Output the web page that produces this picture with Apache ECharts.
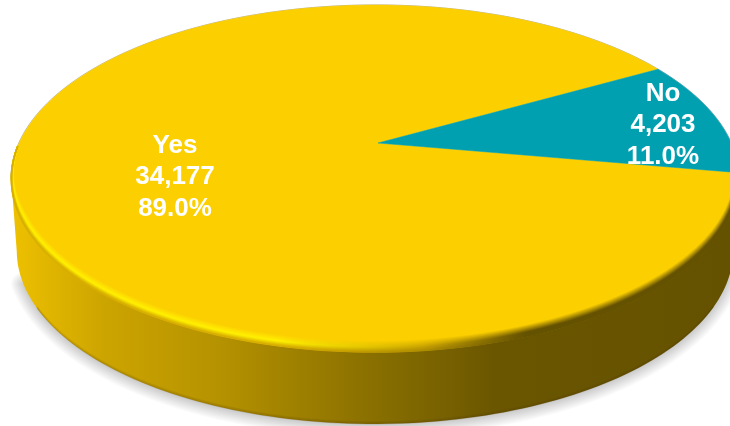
<!DOCTYPE html>
<html>
<head>
<meta charset="utf-8">
<style>html,body{margin:0;padding:0;background:#fff}#c{width:730px;height:426px}</style>
<script src="https://cdn.jsdelivr.net/npm/echarts@6/dist/echarts.min.js"></script>
</head>
<body>
<div id="c"></div>
<script>
const categories = ['Yes', 'No'];
const values = [34177, 4203];
const colors = ['#FCCF00', '#00A0B0'];
const labelAnchors = [[175, 177], [663, 125]];

const total = values.reduce((a, b) => a + b, 0);

// view of the disc: a circle seen in perspective
const X0 = 378, Y0 = 143, AX = 356, BY = 166.2, K = 0.2046, H = -0.008;
const XC = 375, DEPTH = 72, BASE_SCALE = 0.985, RIM = 11;
const NO_END = 10; // degrees below the horizontal where the 'No' slice ends
const rad = d => d * Math.PI / 180;

function face(deg, r) {
  const u = Math.cos(rad(deg)) * r, v = Math.sin(rad(deg)) * r;
  const w = 1 - K * v - H * u;
  return [X0 + AX * u / w, Y0 + BY * v / w];
}
function base(deg, dy) {
  const p = face(deg, 1);
  return [XC + (p[0] - XC) * BASE_SCALE, p[1] + DEPTH + (dy || 0)];
}
function rimPoint(deg, d) {
  const p = face(deg, 1);
  const g = Math.max(0, Math.min(1, (180 - deg) / 25));
  const f = Math.sqrt(Math.max(0, Math.sin(rad(deg))));
  return [XC + (p[0] - XC) * (1 - d * 0.0011 * g), p[1] - d * f * g];
}
function sweep(fn, a, b, n) {
  const out = [];
  for (let i = 0; i <= n; i++) out.push(fn(a + (b - a) * i / n));
  return out;
}
const hex = c => [1, 3, 5].map(i => parseInt(c.substr(i, 2), 16));
function mix(a, b, t) {
  const A = hex(a), B = hex(b);
  return 'rgb(' + A.map((x, i) => Math.round(x + (B[i] - x) * t)).join(',') + ')';
}
const grad = stops => new echarts.graphic.LinearGradient(0, 0, 730, 0,
  stops.map(s => ({ offset: s[0], color: s[1] })), true);

const wallStops = [[0, '#F2C400'], [0.14, '#CDA500'], [0.3, '#B59200'], [0.48, '#8F7400'], [0.68, '#6A5600'], [1, '#655200']];

// slice angles, from the values; 'No' ends at NO_END and 'Yes' follows it
const sliceAngles = (() => {
  const noSpan = values[1] / total * 360;
  return [[NO_END, NO_END + values[0] / total * 360], [NO_END - noSpan, NO_END]];
})();

function renderWall() {
  const children = [];
  // soft shadow under the disc
  for (let s = 12; s >= 1; s--) {
    children.push({ type: 'polyline', shape: { points: sweep(t => base(t, 1), 14, 158, 120) },
      style: { fill: null, lineWidth: s * 2, lineCap: 'round', stroke: 'rgba(0,0,0,0.016)' } });
  }
  const top = sweep(t => face(t, 1), 12, 168, 120);
  const bot = sweep(t => base(t), 168, 12, 120);
  children.push({ type: 'polygon', shape: { points: top.concat(bot) }, style: { fill: grad(wallStops) } });
  // darker lower edge of the wall
  for (let s = 0; s < 4; s++) {
    children.push({ type: 'polyline', shape: { points: sweep(t => base(t, -s * 0.8), 30, 150, 120) },
      style: { fill: null, lineWidth: 1, stroke: 'rgba(70,50,0,' + (0.22 - s * 0.05) + ')' } });
  }
  children.push({ type: 'polyline', shape: { points: sweep(t => face(t, 1.001), 168, 372, 160) },
    style: { fill: null, lineWidth: 1, stroke: 'rgba(110,110,110,0.5)' } });
  return { type: 'group', children };
}
function renderSlice(params, api) {
  const i = params.dataIndex;
  const [a, b] = sliceAngles[i];
  const pts = [[X0, Y0]].concat(sweep(t => face(t, 1), a, b, 240));
  return { type: 'polygon', shape: { points: pts }, style: { fill: colors[i], stroke: colors[i], lineWidth: 0.5 } };
}
function renderRim() {
  const children = [];
  const N = 16;
  for (let k = 0; k <= N; k++) {
    const p = k / N; // 0 inner, 1 outer
    const d = RIM * (1 - p);
    const bright = p < 0.6 ? mix(colors[0], '#FFF000', p / 0.6) : mix('#FFF000', '#D8AE00', (p - 0.6) / 0.4);
    const warm = mix(colors[0], '#B08E00', p);
    const dark = mix(colors[0], '#655200', Math.min(1, p * 1.5));
    children.push({ type: 'polyline', shape: { points: sweep(t => rimPoint(t, d), NO_END, 179, 120) },
      style: { fill: null, lineWidth: 1.6, stroke: grad([[0, bright], [0.38, bright], [0.58, warm], [0.72, dark], [1, dark]]) } });
  }
  return { type: 'group', children };
}
function renderLabel(params) {
  const i = params.dataIndex;
  const txt = categories[i] + '\n' + values[i].toLocaleString('en-US') + '\n' + (values[i] / total * 100).toFixed(1) + '%';
  return { type: 'text', x: labelAnchors[i][0], y: labelAnchors[i][1],
    style: { text: txt, fill: '#fff', font: 'bold 26px "Liberation Sans", Arial, sans-serif', lineHeight: 31.5, align: 'center', verticalAlign: 'middle' } };
}
const common = { type: 'custom', coordinateSystem: 'none', silent: true, clip: false };
const chart = echarts.init(document.getElementById('c'), null, { renderer: 'canvas' });
chart.setOption({
  animation: false,
  backgroundColor: '#fff',
  series: [
    { ...common, z: 1, data: [total], renderItem: renderWall },
    { ...common, z: 2, data: categories.map((c, i) => ({ name: c, value: values[i] })), renderItem: renderSlice },
    { ...common, z: 3, data: [total], renderItem: renderRim },
    { ...common, z: 4, data: categories.map((c, i) => ({ name: c, value: values[i] })), renderItem: renderLabel }
  ]
});
</script>
</body>
</html>
